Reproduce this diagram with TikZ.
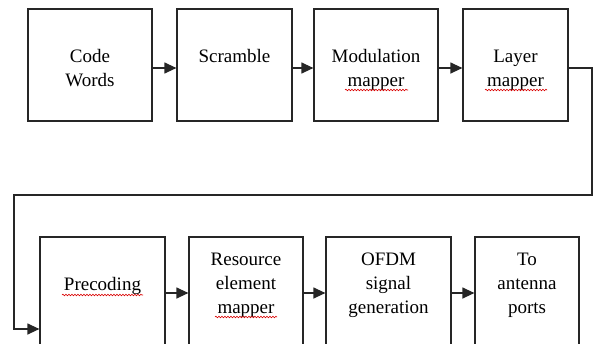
\documentclass[tikz,border=0pt]{standalone}
\usepackage{fontspec}
\setmainfont{Liberation Serif}
\usetikzlibrary{arrows.meta,decorations.pathmorphing}
\begin{document}
\begin{tikzpicture}[>={Triangle[length=12pt,width=11pt]},x=1pt,y=-1pt,font=\fontsize{19}{24}\selectfont,
	blk/.style={draw=black!85,line width=1.2pt,minimum height=112pt,inner sep=0pt},
	txt/.style={anchor=base,align=center,inner sep=0pt},
	arr/.style={->,draw=black!85,line width=1.2pt},
	spell/.style={draw=red!85!black,line width=.6pt,decorate,decoration={snake,amplitude=.8pt,segment length=3pt}}]
	\def\rowA{65}  % upper row of blocks
	\def\rowB{293} % lower row, cut off at the bottom
	\useasboundingbox (0,0) rectangle (594,343);
	\clip (0,0) rectangle (594,343);
	\node[blk,minimum width=124pt] (cw) at (90,\rowA) {};
	\node[blk,minimum width=115pt] (sc) at (234.5,\rowA) {};
	\node[blk,minimum width=124pt] (mm) at (376,\rowA) {};
	\node[blk,minimum width=105pt] (lm) at (515.5,\rowA) {};
	\node[blk,minimum width=125pt] (pc) at (102.5,\rowB) {};
	\node[blk,minimum width=114pt] (re) at (246,\rowB) {};
	\node[blk,minimum width=125pt] (og) at (388.5,\rowB) {};
	\node[blk,minimum width=104pt] (ap) at (527,\rowB) {};
	% base of a node is the baseline of its last line
	\node[txt] (cwT) at ([yshift=-78pt]cw.north) {Code\\Words};
	\node[txt] (scT) at ([yshift=-54pt]sc.north) {Scramble};
	\node[txt] (mmT) at ([yshift=-78pt]mm.north) {Modulation\\mapper};
	\node[txt] (lmT) at ([yshift=-78pt]lm.north) {Layer\\mapper};
	\node[txt] (pcT) at ([yshift=-54pt]pc.north) {Precoding};
	\node[txt] (reT) at ([yshift=-77pt]re.north) {Resource\\element\\mapper};
	\node[txt] (ogT) at ([yshift=-77pt]og.north) {OFDM\\signal\\generation};
	\node[txt] (apT) at ([yshift=-77pt]ap.north) {To\\antenna\\ports};
	% spell-check marks
	\draw[spell] (345,90) -- (408,90);
	\draw[spell] (485,90) -- (547,90);
	\draw[spell] (62,295) -- (143,295);
	\draw[spell] (215,317) -- (277,317);
	\draw[arr] ([yshift=-3pt]cw.east) -- ([yshift=-3pt]sc.west);
	\draw[arr] ([yshift=-3pt]sc.east) -- ([yshift=-3pt]mm.west);
	\draw[arr] ([yshift=-3pt]mm.east) -- ([yshift=-3pt]lm.west);
	\coordinate (r1) at (592,195);
	\coordinate (l1) at (14,195);
	\draw[arr] ([yshift=-3pt]lm.east) -| (r1) -- (l1) |- ([yshift=-36pt]pc.west);
	\draw[arr] (pc.east) -- (re.west);
	\draw[arr] (re.east) -- (og.west);
	\draw[arr] (og.east) -- (ap.west);
\end{tikzpicture}
\end{document}
